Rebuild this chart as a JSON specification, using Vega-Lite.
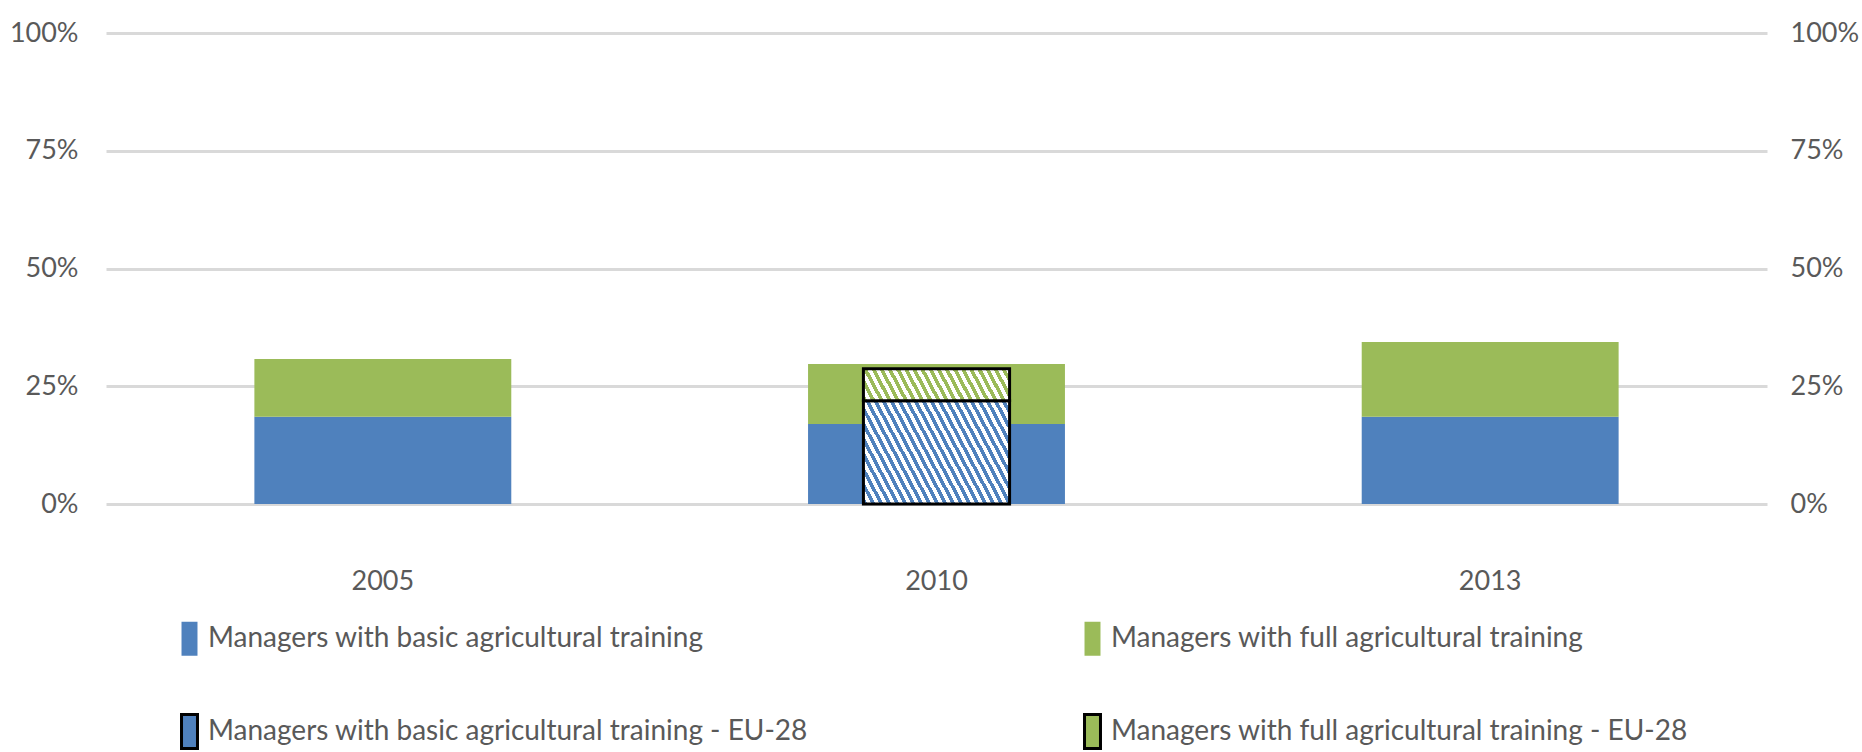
{
  "$schema": "https://vega.github.io/schema/vega-lite/v6.json",
  "autosize": {"type": "none"},
  "width": 1661,
  "height": 471,
  "padding": {"left": 106, "top": 33, "right": 95, "bottom": 248},
  "background": "white",
  "config": {
    "view": {"stroke": null},
    "font": "Lato",
    "axis": {
      "labelFont": "Lato",
      "labelColor": "#595959",
      "labelFontSize": 27,
      "domain": false,
      "ticks": false
    },
    "legend": {"labelFont": "Lato"}
  },
  "datasets": {
    "national": [
      {"year": "2005", "series": "Managers with basic agricultural training", "rank": 1, "value": 18.5},
      {"year": "2005", "series": "Managers with full agricultural training", "rank": 2, "value": 12.3},
      {"year": "2010", "series": "Managers with basic agricultural training", "rank": 1, "value": 17.0},
      {"year": "2010", "series": "Managers with full agricultural training", "rank": 2, "value": 12.7},
      {"year": "2013", "series": "Managers with basic agricultural training", "rank": 1, "value": 18.5},
      {"year": "2013", "series": "Managers with full agricultural training", "rank": 2, "value": 15.9}
    ],
    "eu": [
      {"year": "2010", "series": "Managers with basic agricultural training - EU-28", "rank": 1, "value": 21.9},
      {"year": "2010", "series": "Managers with full agricultural training - EU-28", "rank": 2, "value": 6.8}
    ]
  },
  "layer": [
    {
      "data": {"name": "national"},
      "mark": {"type": "bar", "width": {"band": 0.464}},
      "encoding": {
        "x": {
          "field": "year", "type": "nominal",
          "scale": {"domain": ["2005", "2010", "2013"], "paddingInner": 0, "paddingOuter": 0},
          "axis": {"title": null, "labelAngle": 0, "labelBaseline": "middle", "labelPadding": 77, "grid": false}
        },
        "y": {
          "field": "value", "type": "quantitative", "stack": "zero",
          "scale": {"domain": [0, 100], "nice": false},
          "axis": {
            "title": null, "orient": "left", "values": [0, 25, 50, 75, 100],
            "labelExpr": "datum.value + '%'",
            "grid": true, "gridColor": "#d9d9d9", "gridWidth": 3,
            "labelPadding": 28
          }
        },
        "order": {"field": "rank", "type": "quantitative", "sort": "ascending"},
        "color": {
          "field": "series", "type": "nominal",
          "scale": {
            "domain": [
              "Managers with basic agricultural training",
              "Managers with full agricultural training",
              "Managers with basic agricultural training - EU-28",
              "Managers with full agricultural training - EU-28"
            ],
            "range": ["#4f81bd", "#9bbb59", "#4f81bd", "#9bbb59"]
          },
          "legend": {
            "orient": "none",
            "direction": "horizontal",
            "legendX": 65,
            "legendY": 587,
            "columns": 2,
            "title": null,
            "padding": 0,
            "symbolType": "M-0.47,-1H0.47V1H-0.47Z",
            "symbolSize": 1156,
            "labelFontSize": 28,
            "labelColor": "#595959",
            "labelOffset": 0,
            "labelLimit": 0,
            "rowPadding": 46,
            "columnPadding": 266,
            "encode": {
              "symbols": {
                "update": {
                  "fill": {"signal": "indexof(datum.label,'EU-28')>=0 ? {gradient:'linear',x1:0.001,y1:1,x2:0.84,y2:-0.12,stops:[{offset:0,color:'#ffffff'},{offset:0.36,color:'#ffffff'},{offset:0.36,color:(indexof(datum.label,'basic')>=0?'#4f81bd':'#9bbb59')},{offset:0.64,color:(indexof(datum.label,'basic')>=0?'#4f81bd':'#9bbb59')},{offset:0.64,color:'#ffffff'},{offset:1,color:'#ffffff'}]} : (indexof(datum.label,'basic')>=0?'#4f81bd':'#9bbb59')"},
                  "stroke": {"signal": "indexof(datum.label,'EU-28')>=0 ? 'black' : 'transparent'"},
                  "strokeWidth": {"value": 3}
                }
              }
            }
          }
        }
      }
    },
    {
      "data": {"name": "eu"},
      "transform": [
        {"stack": "value", "groupby": ["year"], "sort": [{"field": "rank", "order": "ascending"}], "as": ["v0", "v1"]},
        {"filter": "datum.rank == 1"}
      ],
      "mark": {
        "type": "bar", "width": {"band": 0.264}, "stroke": "black", "strokeWidth": 3,
        "fill": {
          "gradient": "linear", "x1": 0.001, "y1": 1, "x2": 1.205, "y2": 0.552,
          "stops": [
            {"offset":0,"color":"#4f81bd"},{"offset":0.02,"color":"#4f81bd"},{"offset":0.02,"color":"#ffffff"},{"offset":0.04,"color":"#ffffff"},
            {"offset":0.04,"color":"#4f81bd"},{"offset":0.06,"color":"#4f81bd"},{"offset":0.06,"color":"#ffffff"},{"offset":0.08,"color":"#ffffff"},
            {"offset":0.08,"color":"#4f81bd"},{"offset":0.1,"color":"#4f81bd"},{"offset":0.1,"color":"#ffffff"},{"offset":0.12,"color":"#ffffff"},
            {"offset":0.12,"color":"#4f81bd"},{"offset":0.14,"color":"#4f81bd"},{"offset":0.14,"color":"#ffffff"},{"offset":0.16,"color":"#ffffff"},
            {"offset":0.16,"color":"#4f81bd"},{"offset":0.18,"color":"#4f81bd"},{"offset":0.18,"color":"#ffffff"},{"offset":0.2,"color":"#ffffff"},
            {"offset":0.2,"color":"#4f81bd"},{"offset":0.22,"color":"#4f81bd"},{"offset":0.22,"color":"#ffffff"},{"offset":0.24,"color":"#ffffff"},
            {"offset":0.24,"color":"#4f81bd"},{"offset":0.26,"color":"#4f81bd"},{"offset":0.26,"color":"#ffffff"},{"offset":0.28,"color":"#ffffff"},
            {"offset":0.28,"color":"#4f81bd"},{"offset":0.3,"color":"#4f81bd"},{"offset":0.3,"color":"#ffffff"},{"offset":0.32,"color":"#ffffff"},
            {"offset":0.32,"color":"#4f81bd"},{"offset":0.34,"color":"#4f81bd"},{"offset":0.34,"color":"#ffffff"},{"offset":0.36,"color":"#ffffff"},
            {"offset":0.36,"color":"#4f81bd"},{"offset":0.38,"color":"#4f81bd"},{"offset":0.38,"color":"#ffffff"},{"offset":0.4,"color":"#ffffff"},
            {"offset":0.4,"color":"#4f81bd"},{"offset":0.42,"color":"#4f81bd"},{"offset":0.42,"color":"#ffffff"},{"offset":0.44,"color":"#ffffff"},
            {"offset":0.44,"color":"#4f81bd"},{"offset":0.46,"color":"#4f81bd"},{"offset":0.46,"color":"#ffffff"},{"offset":0.48,"color":"#ffffff"},
            {"offset":0.48,"color":"#4f81bd"},{"offset":0.5,"color":"#4f81bd"},{"offset":0.5,"color":"#ffffff"},{"offset":0.52,"color":"#ffffff"},
            {"offset":0.52,"color":"#4f81bd"},{"offset":0.54,"color":"#4f81bd"},{"offset":0.54,"color":"#ffffff"},{"offset":0.56,"color":"#ffffff"},
            {"offset":0.56,"color":"#4f81bd"},{"offset":0.58,"color":"#4f81bd"},{"offset":0.58,"color":"#ffffff"},{"offset":0.6,"color":"#ffffff"},
            {"offset":0.6,"color":"#4f81bd"},{"offset":0.62,"color":"#4f81bd"},{"offset":0.62,"color":"#ffffff"},{"offset":0.64,"color":"#ffffff"},
            {"offset":0.64,"color":"#4f81bd"},{"offset":0.66,"color":"#4f81bd"},{"offset":0.66,"color":"#ffffff"},{"offset":0.68,"color":"#ffffff"},
            {"offset":0.68,"color":"#4f81bd"},{"offset":0.7,"color":"#4f81bd"},{"offset":0.7,"color":"#ffffff"},{"offset":0.72,"color":"#ffffff"},
            {"offset":0.72,"color":"#4f81bd"},{"offset":0.74,"color":"#4f81bd"},{"offset":0.74,"color":"#ffffff"},{"offset":0.76,"color":"#ffffff"},
            {"offset":0.76,"color":"#4f81bd"},{"offset":0.78,"color":"#4f81bd"},{"offset":0.78,"color":"#ffffff"},{"offset":0.8,"color":"#ffffff"},
            {"offset":0.8,"color":"#4f81bd"},{"offset":0.82,"color":"#4f81bd"},{"offset":0.82,"color":"#ffffff"},{"offset":0.84,"color":"#ffffff"},
            {"offset":0.84,"color":"#4f81bd"},{"offset":0.86,"color":"#4f81bd"},{"offset":0.86,"color":"#ffffff"},{"offset":0.88,"color":"#ffffff"},
            {"offset":0.88,"color":"#4f81bd"},{"offset":0.9,"color":"#4f81bd"},{"offset":0.9,"color":"#ffffff"},{"offset":0.92,"color":"#ffffff"},
            {"offset":0.92,"color":"#4f81bd"},{"offset":0.94,"color":"#4f81bd"},{"offset":0.94,"color":"#ffffff"},{"offset":0.96,"color":"#ffffff"},
            {"offset":0.96,"color":"#4f81bd"},{"offset":0.98,"color":"#4f81bd"},{"offset":0.98,"color":"#ffffff"},{"offset":1,"color":"#ffffff"}
          ]
        }
      },
      "encoding": {
        "x": {"field": "year", "type": "nominal", "axis": {"title": null, "labelAngle": 0, "labelBaseline": "middle", "labelPadding": 77, "grid": false}},
        "y": {
          "field": "v1", "type": "quantitative",
          "axis": {
            "title": null, "orient": "right", "values": [0, 25, 50, 75, 100],
            "labelExpr": "datum.value + '%'", "grid": false, "labelPadding": 23
          }
        },
        "y2": {"field": "v0"}
      }
    },
    {
      "data": {"name": "eu"},
      "transform": [
        {"stack": "value", "groupby": ["year"], "sort": [{"field": "rank", "order": "ascending"}], "as": ["v0", "v1"]},
        {"filter": "datum.rank == 2"}
      ],
      "mark": {
        "type": "bar", "width": {"band": 0.264}, "stroke": "black", "strokeWidth": 3,
        "fill": {
          "gradient": "linear", "x1": 0.001, "y1": 1, "x2": 1.101, "y2": 0.873,
          "stops": [
            {"offset":0,"color":"#9bbb59"},{"offset":0.025,"color":"#9bbb59"},{"offset":0.025,"color":"#ffffff"},{"offset":0.05,"color":"#ffffff"},
            {"offset":0.05,"color":"#9bbb59"},{"offset":0.075,"color":"#9bbb59"},{"offset":0.075,"color":"#ffffff"},{"offset":0.1,"color":"#ffffff"},
            {"offset":0.1,"color":"#9bbb59"},{"offset":0.125,"color":"#9bbb59"},{"offset":0.125,"color":"#ffffff"},{"offset":0.15,"color":"#ffffff"},
            {"offset":0.15,"color":"#9bbb59"},{"offset":0.175,"color":"#9bbb59"},{"offset":0.175,"color":"#ffffff"},{"offset":0.2,"color":"#ffffff"},
            {"offset":0.2,"color":"#9bbb59"},{"offset":0.225,"color":"#9bbb59"},{"offset":0.225,"color":"#ffffff"},{"offset":0.25,"color":"#ffffff"},
            {"offset":0.25,"color":"#9bbb59"},{"offset":0.275,"color":"#9bbb59"},{"offset":0.275,"color":"#ffffff"},{"offset":0.3,"color":"#ffffff"},
            {"offset":0.3,"color":"#9bbb59"},{"offset":0.325,"color":"#9bbb59"},{"offset":0.325,"color":"#ffffff"},{"offset":0.35,"color":"#ffffff"},
            {"offset":0.35,"color":"#9bbb59"},{"offset":0.375,"color":"#9bbb59"},{"offset":0.375,"color":"#ffffff"},{"offset":0.4,"color":"#ffffff"},
            {"offset":0.4,"color":"#9bbb59"},{"offset":0.425,"color":"#9bbb59"},{"offset":0.425,"color":"#ffffff"},{"offset":0.45,"color":"#ffffff"},
            {"offset":0.45,"color":"#9bbb59"},{"offset":0.475,"color":"#9bbb59"},{"offset":0.475,"color":"#ffffff"},{"offset":0.5,"color":"#ffffff"},
            {"offset":0.5,"color":"#9bbb59"},{"offset":0.525,"color":"#9bbb59"},{"offset":0.525,"color":"#ffffff"},{"offset":0.55,"color":"#ffffff"},
            {"offset":0.55,"color":"#9bbb59"},{"offset":0.575,"color":"#9bbb59"},{"offset":0.575,"color":"#ffffff"},{"offset":0.6,"color":"#ffffff"},
            {"offset":0.6,"color":"#9bbb59"},{"offset":0.625,"color":"#9bbb59"},{"offset":0.625,"color":"#ffffff"},{"offset":0.65,"color":"#ffffff"},
            {"offset":0.65,"color":"#9bbb59"},{"offset":0.675,"color":"#9bbb59"},{"offset":0.675,"color":"#ffffff"},{"offset":0.7,"color":"#ffffff"},
            {"offset":0.7,"color":"#9bbb59"},{"offset":0.725,"color":"#9bbb59"},{"offset":0.725,"color":"#ffffff"},{"offset":0.75,"color":"#ffffff"},
            {"offset":0.75,"color":"#9bbb59"},{"offset":0.775,"color":"#9bbb59"},{"offset":0.775,"color":"#ffffff"},{"offset":0.8,"color":"#ffffff"},
            {"offset":0.8,"color":"#9bbb59"},{"offset":0.825,"color":"#9bbb59"},{"offset":0.825,"color":"#ffffff"},{"offset":0.85,"color":"#ffffff"},
            {"offset":0.85,"color":"#9bbb59"},{"offset":0.875,"color":"#9bbb59"},{"offset":0.875,"color":"#ffffff"},{"offset":0.9,"color":"#ffffff"},
            {"offset":0.9,"color":"#9bbb59"},{"offset":0.925,"color":"#9bbb59"},{"offset":0.925,"color":"#ffffff"},{"offset":0.95,"color":"#ffffff"},
            {"offset":0.95,"color":"#9bbb59"},{"offset":0.975,"color":"#9bbb59"},{"offset":0.975,"color":"#ffffff"},{"offset":1,"color":"#ffffff"}
          ]
        }
      },
      "encoding": {
        "x": {"field": "year", "type": "nominal", "axis": {"title": null, "labelAngle": 0, "labelBaseline": "middle", "labelPadding": 77, "grid": false}},
        "y": {"field": "v1", "type": "quantitative", "axis": null},
        "y2": {"field": "v0"}
      }
    }
  ],
  "resolve": {"axis": {"y": "independent"}}
}
